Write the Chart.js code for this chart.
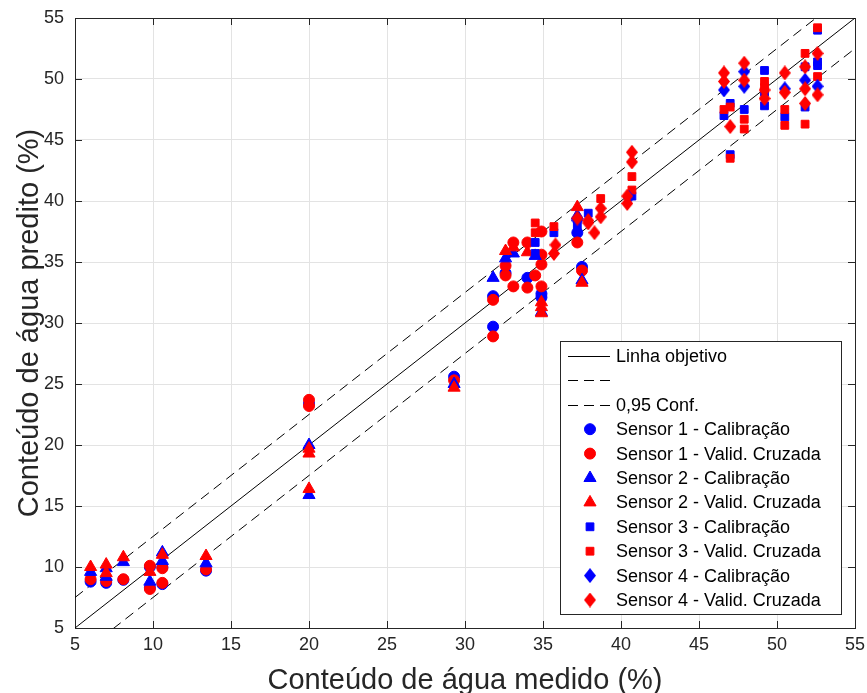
<!DOCTYPE html>
<html>
<head>
<meta charset="utf-8">
<title>Conteúdo de água</title>
<script src="https://cdn.jsdelivr.net/npm/chart.js@4.4.1/dist/chart.umd.min.js"></script>
<style>
	html, body { margin: 0; padding: 0; background: #fff; }
	#chart { display: block; }
</style>
</head>
<body>
<canvas id="chart" width="867" height="693"></canvas>
<script>
// Axis ticks (both axes share the same range)
const axisTicks = [5, 10, 15, 20, 25, 30, 35, 40, 45, 50, 55];

// 1:1 target line and the 0,95 confidence band
const refLineX = [5, 55];
const refLineY = [5, 55];
const confUpperY = [7.5, 57.5];
const confLowerY = [2.5, 52.5];

// [medido, predito] pairs per sensor
const sensor1Cal = [
	[6, 8.8], [7, 8.7], [8.1, 8.95], [9.8, 10.0], [9.8, 8.3], [10.6, 10.0], [10.6, 8.6], [13.4, 9.7],
	[20, 23.4], [29.3, 25.6], [31.8, 32.2], [31.8, 29.7], [32.6, 34.1], [34.0, 33.7], [34.9, 32.4],
	[34.9, 32.1], [37.2, 37.4], [37.5, 34.6],
];
const sensor1Val = [
	[6, 9.0], [7, 8.85], [8.1, 9.0], [9.8, 10.1], [9.8, 8.2], [10.6, 9.9], [10.6, 8.7], [13.4, 9.8],
	[20, 23.7], [20, 23.2], [29.3, 25.3], [31.8, 31.9], [31.8, 28.9], [32.6, 34.7], [32.6, 33.9],
	[33.1, 36.6], [33.1, 33.0], [34.0, 36.6], [34.0, 32.9], [34.5, 33.9], [34.9, 37.5], [34.9, 35.6],
	[34.9, 34.8], [34.9, 33.0], [37.2, 36.6], [37.5, 34.3],
];
const sensor2Cal = [
	[6, 9.6], [7, 9.9], [7, 9.2], [8.1, 10.4], [9.8, 8.8], [10.6, 11.2], [10.6, 10.5], [13.4, 10.3],
	[20, 20.0], [20, 15.9], [29.3, 25.0], [31.8, 33.7], [32.6, 35.3], [33.1, 35.7], [34.5, 35.5],
	[34.9, 30.9], [37.5, 33.5], [37.2, 38.8],
];
const sensor2Val = [
	[6, 10.0], [7, 10.2], [7, 9.5], [8.1, 10.8], [9.8, 9.6], [10.6, 11.0], [13.4, 10.9],
	[20, 19.7], [20, 19.3], [20, 16.4], [29.3, 24.7], [32.6, 35.9], [33.1, 36.2], [34.0, 35.8],
	[34.9, 31.7], [34.9, 31.3], [34.9, 30.8], [37.2, 39.5], [37.5, 33.3],
];
const sensor3Cal = [
	[34.5, 36.6], [34.5, 35.7], [35.7, 37.4], [37.2, 38.0], [37.9, 39.0], [40.7, 40.4],
	[46.6, 47.0], [47.0, 48.0], [47.0, 43.8], [47.9, 47.5], [49.2, 50.7], [49.2, 48.9], [49.2, 47.8],
	[50.5, 46.9], [51.8, 51.0], [51.8, 47.7], [52.6, 54.0], [52.6, 51.4], [52.6, 51.1],
];
const sensor3Val = [
	[34.5, 38.2], [34.5, 37.4], [35.7, 37.9], [38.7, 40.2], [40.7, 42.0], [40.7, 40.9],
	[46.6, 47.5], [47.0, 47.7], [47.0, 43.5], [47.9, 46.7], [47.9, 45.9], [49.2, 49.8], [49.2, 49.3],
	[50.5, 47.5], [50.5, 46.2], [51.8, 52.1], [51.8, 46.3], [52.6, 54.2], [52.6, 50.2],
];
const sensor4Cal = [
	[37.2, 38.4], [40.5, 40.3], [46.6, 49.1], [47.9, 50.6], [47.9, 49.4], [50.5, 49.2], [51.8, 49.9],
	[52.6, 49.4],
];
const sensor4Val = [
	[35.8, 36.4], [35.7, 35.7], [37.2, 38.6], [37.9, 38.4], [37.9, 38.2], [38.3, 37.4], [38.7, 39.4],
	[38.7, 38.7], [40.4, 40.4], [40.4, 39.8], [40.7, 44.0], [40.7, 43.2], [46.6, 50.5], [46.6, 49.8],
	[47.0, 46.1], [47.9, 51.3], [47.9, 49.9], [49.2, 49.1], [49.2, 48.4], [50.5, 50.5], [50.5, 48.9],
	[51.8, 51.0], [51.8, 49.2], [51.8, 48.0], [52.6, 52.1], [52.6, 48.7],
];

const BLUE = '#0000ff';
const RED = '#ff0000';
const AXIS_COLOR = '#262626';
const FONT = '"Liberation Sans", Arial, Helvetica, sans-serif';
const DASH = [10, 6];

function toPoints(pairs) {
	return pairs.map(([x, y]) => ({ x, y }));
}

function zipLine(xs, ys) {
	return xs.map((x, i) => ({ x, y: ys[i] }));
}

// MATLAB-like diamond is taller than it is wide
function makeDiamond(color) {
	const c = document.createElement('canvas');
	c.width = 12;
	c.height = 15;
	const g = c.getContext('2d');
	g.fillStyle = color;
	g.beginPath();
	g.moveTo(6, 0);
	g.lineTo(12, 7.5);
	g.lineTo(6, 15);
	g.lineTo(0, 7.5);
	g.closePath();
	g.fill();
	return c;
}

function lineSet(label, ys, dash) {
	return {
		type: 'line',
		label,
		data: zipLine(refLineX, ys),
		borderColor: '#000',
		borderWidth: 1,
		borderDash: dash,
		pointRadius: 0,
		fill: false,
	};
}

function markerSet(label, pairs, color, style, radius) {
	return {
		type: 'scatter',
		label,
		data: toPoints(pairs),
		backgroundColor: color,
		borderColor: color,
		borderWidth: 1,
		pointStyle: style,
		pointRadius: radius,
		pointHoverRadius: radius,
	};
}

const datasets = [
	lineSet('Linha objetivo', refLineY, []),
	lineSet('', confUpperY, DASH),
	lineSet('0,95 Conf.', confLowerY, DASH),
	markerSet('Sensor 1 - Calibração', sensor1Cal, BLUE, 'circle', 5.5),
	markerSet('Sensor 1 - Valid. Cruzada', sensor1Val, RED, 'circle', 5.5),
	markerSet('Sensor 2 - Calibração', sensor2Cal, BLUE, 'triangle', 7),
	markerSet('Sensor 2 - Valid. Cruzada', sensor2Val, RED, 'triangle', 7),
	markerSet('Sensor 3 - Calibração', sensor3Cal, BLUE, 'rect', 5.5),
	markerSet('Sensor 3 - Valid. Cruzada', sensor3Val, RED, 'rect', 5.5),
	markerSet('Sensor 4 - Calibração', sensor4Cal, BLUE, makeDiamond(BLUE), 7),
	markerSet('Sensor 4 - Valid. Cruzada', sensor4Val, RED, makeDiamond(RED), 7),
];
// later series paint on top
datasets.forEach((ds, i) => { ds.order = -i; });

// Box around the axes plus inward tick marks on all four sides
const axesBox = {
	id: 'axesBox',
	beforeDatasetsDraw(chart) {
		const { ctx, chartArea: a, scales } = chart;
		const len = 7;
		ctx.save();
		ctx.strokeStyle = AXIS_COLOR;
		ctx.lineWidth = 1;
		ctx.beginPath();
		for (const v of axisTicks) {
			const px = Math.round(scales.x.getPixelForValue(v)) + 0.5;
			ctx.moveTo(px, a.bottom);
			ctx.lineTo(px, a.bottom - len);
			ctx.moveTo(px, a.top);
			ctx.lineTo(px, a.top + len);
			const py = Math.round(scales.y.getPixelForValue(v)) + 0.5;
			ctx.moveTo(a.left, py);
			ctx.lineTo(a.left + len, py);
			ctx.moveTo(a.right, py);
			ctx.lineTo(a.right - len, py);
		}
		ctx.stroke();
		ctx.strokeRect(Math.round(a.left) + 0.5, Math.round(a.top) + 0.5,
			Math.round(a.right - a.left), Math.round(a.bottom - a.top));
		ctx.restore();
	},
};

// Legend box in the lower right corner of the plot
const boxLegend = {
	id: 'boxLegend',
	afterDraw(chart) {
		const { ctx, chartArea: a } = chart;
		const w = 281;
		const h = 273;
		const right = Math.round(a.right) - 14;
		const bottom = Math.round(a.bottom) - 14;
		const left = right - w;
		const top = bottom - h;
		const rowH = 24.4;
		ctx.save();
		ctx.fillStyle = '#fff';
		ctx.fillRect(left, top, w, h);
		ctx.strokeStyle = AXIS_COLOR;
		ctx.lineWidth = 1;
		ctx.strokeRect(left + 0.5, top + 0.5, w, h);
		ctx.font = `18px ${FONT}`;
		ctx.textBaseline = 'middle';
		chart.data.datasets.forEach((ds, i) => {
			const y = top + 15 + i * rowH;
			if (ds.type === 'line') {
				ctx.strokeStyle = '#000';
				ctx.setLineDash(ds.borderDash);
				ctx.beginPath();
				ctx.moveTo(left + 8, Math.round(y) + 0.5);
				ctx.lineTo(left + 50, Math.round(y) + 0.5);
				ctx.stroke();
				ctx.setLineDash([]);
			} else {
				ctx.fillStyle = ds.backgroundColor;
				ctx.strokeStyle = ds.borderColor;
				Chart.helpers.drawPoint(ctx, {
					pointStyle: ds.pointStyle,
					radius: ds.pointRadius,
					rotation: 0,
					borderWidth: 1,
				}, left + 30, y);
			}
			ctx.fillStyle = '#000';
			ctx.fillText(ds.label, left + 56, y + 1);
		});
		ctx.restore();
	},
};

const tickFont = { family: FONT, size: 18 };
const titleFont = { family: FONT, size: 29, lineHeight: 1 };

new Chart(document.getElementById('chart'), {
	data: { datasets },
	options: {
		responsive: false,
		animation: false,
		layout: { padding: { top: 18, right: 12, left: 0, bottom: 0 } },
		plugins: {
			legend: { display: false },
			tooltip: { enabled: false },
		},
		scales: {
			x: {
				type: 'linear',
				min: 5,
				max: 55,
				afterBuildTicks: (scale) => { scale.ticks = axisTicks.map((value) => ({ value })); },
				afterFit: (scale) => {
					scale.height = 65;
					scale.paddingLeft = 0;
					scale.paddingRight = 0;
				},
				ticks: { font: tickFont, color: AXIS_COLOR, padding: 6, maxRotation: 0 },
				grid: { color: '#e3e3e3', drawTicks: false },
				border: { color: AXIS_COLOR },
				title: {
					display: true,
					text: 'Conteúdo de água medido (%)',
					font: titleFont,
					color: AXIS_COLOR,
					padding: { top: 0, bottom: -2 },
				},
			},
			y: {
				type: 'linear',
				min: 5,
				max: 55,
				afterBuildTicks: (scale) => { scale.ticks = axisTicks.map((value) => ({ value })); },
				afterFit: (scale) => {
					scale.width = 75;
					scale.paddingTop = 0;
					scale.paddingBottom = 0;
				},
				ticks: { font: tickFont, color: AXIS_COLOR, padding: 11 },
				grid: { color: '#e3e3e3', drawTicks: false },
				border: { color: AXIS_COLOR },
				title: {
					display: true,
					text: 'Conteúdo de água predito (%)',
					font: titleFont,
					color: AXIS_COLOR,
					padding: { top: 15, bottom: 0 },
				},
			},
		},
	},
	plugins: [axesBox, boxLegend],
});
</script>
</body>
</html>
